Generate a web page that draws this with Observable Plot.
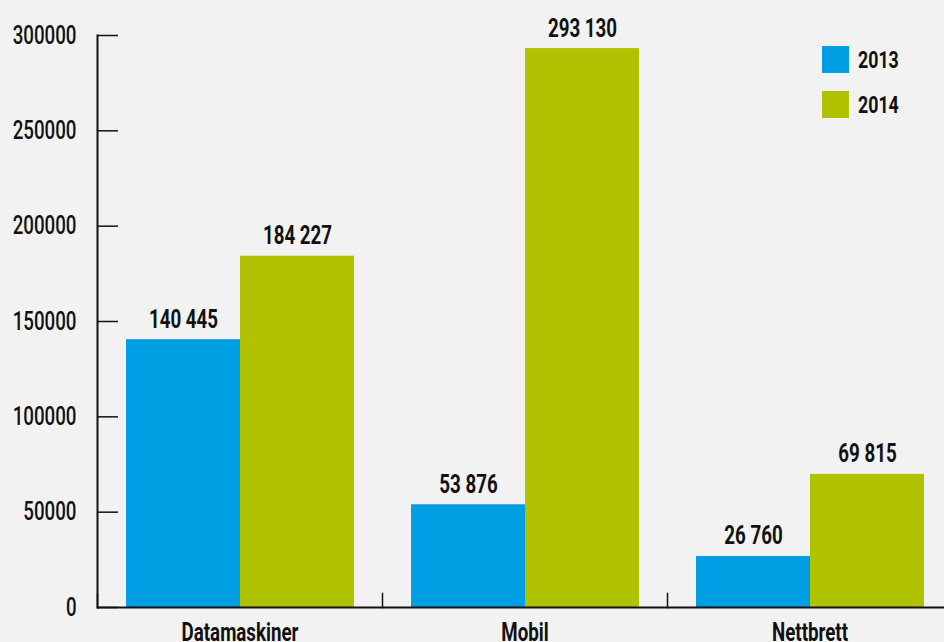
<!DOCTYPE html>
<html><head><meta charset="utf-8">
<script src="https://cdn.jsdelivr.net/npm/d3@7"></script>
<script src="https://cdn.jsdelivr.net/npm/@observablehq/plot@0.6"></script>
<style>
html,body{margin:0;padding:0;background:#f2f2f2;}
#wrap{position:relative;width:944px;height:642px;overflow:hidden;}
#legend{position:absolute;left:822px;top:46px;font-family:Roboto,"Liberation Sans",sans-serif;font-weight:bold;font-size:24px;color:#111;}
#legend .item{display:flex;align-items:center;height:27px;margin-bottom:18px;}
#legend .sw{width:27px;height:27px;display:inline-block;margin-right:9px;}
#legend .lab{display:inline-block;transform:scaleX(0.74);transform-origin:left center;}
</style></head><body><div id="wrap"></div>
<script>
const categories = ["Datamaskiner", "Mobil", "Nettbrett"];
const years = ["2013", "2014"];
const values2013 = [140445, 53876, 26760];
const values2014 = [184227, 293130, 69815];
const yTicks = [0, 50000, 100000, 150000, 200000, 250000, 300000];
const colors = ["#009fe3", "#b0c200"];

const data = categories.flatMap((c, i) => [
  {category: c, year: years[0], value: values2013[i]},
  {category: c, year: years[1], value: values2014[i]}
]);
const fmt = d3.formatLocale({thousands: " ", grouping: [3], decimal: ",", currency: ["", ""]}).format(",d");
const font = 'Roboto,"Liberation Sans",sans-serif';

const chart = Plot.plot({
  width: 944, height: 642,
  marginLeft: 96, marginTop: 35, marginBottom: 35, marginRight: 0,
  style: {background: "transparent", fontFamily: font, color: "#111", overflow: "visible"},
  fx: {domain: categories, range: [96, 952.5], paddingInner: 0, paddingOuter: 0, label: null},
  x: {domain: years, paddingInner: 0, paddingOuter: 0.2467, axis: null},
  y: {domain: [0, 300000], label: null},
  color: {domain: years, range: colors},
  marks: [
    Plot.barY(data, {fx: "category", x: "year", y: "value", fill: "year"}),
    Plot.text(data, {fx: "category", x: "year", y: "value", text: d => fmt(d.value), lineAnchor: "bottom", dy: -12, fontSize: 26, fontWeight: "bold"}),
    Plot.ruleY([0], {strokeWidth: 2, stroke: "#111"}),
    Plot.frame({anchor: "left", facet: "super", strokeWidth: 2, stroke: "#111"}),
    Plot.frame({anchor: "left", insetTop: 572 - 14, stroke: "#111", strokeWidth: 1.5}),
    Plot.axisY({ticks: yTicks, tickSize: -21, tickFormat: () => "", strokeWidth: 1.5, label: null}),
    Plot.axisY({ticks: yTicks, tickSize: 0, tickPadding: 21, tickFormat: d3.format("d"), fontSize: 26, fontWeight: 500, label: null}),
    Plot.axisFx({anchor: "bottom", tickSize: 0, tickPadding: 15, fontSize: 26, fontWeight: "bold", label: null})
  ]
});
const wrap = document.getElementById("wrap");
wrap.appendChild(chart);
// condense glyphs horizontally to imitate a condensed typeface
chart.querySelectorAll("text").forEach(t => {
  const len = t.getComputedTextLength();
  if (len > 0) {
    t.setAttribute("textLength", (len * 0.72).toFixed(1));
    t.setAttribute("lengthAdjust", "spacingAndGlyphs");
  }
});
const cs = chart.scale("color");
const legend = document.createElement("div");
legend.id = "legend";
cs.domain.forEach((y, i) => {
  const item = document.createElement("div");
  item.className = "item";
  const sw = document.createElement("span");
  sw.className = "sw";
  sw.style.background = cs.range[i];
  const t = document.createElement("span");
  t.className = "lab";
  t.textContent = y;
  item.appendChild(sw); item.appendChild(t);
  legend.appendChild(item);
});
wrap.appendChild(legend);
</script>
</body></html>
